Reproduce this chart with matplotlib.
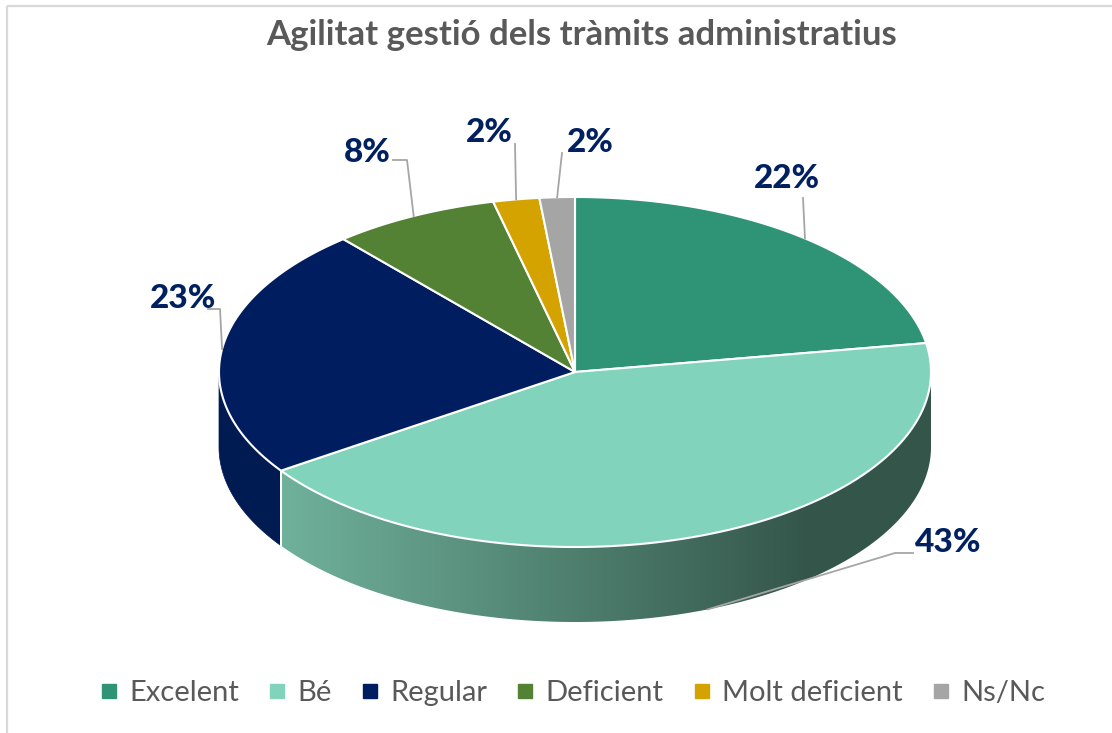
import numpy as np
import matplotlib
matplotlib.use("Agg")
import matplotlib.pyplot as plt
from matplotlib.patches import Polygon, Rectangle
from matplotlib.lines import Line2D

# data
categories = ["Excelent", "Bé", "Regular", "Deficient", "Molt deficient", "Ns/Nc"]
values = [22.4, 43.2, 23.3, 7.6, 2.1, 1.6]
colors = ["#2E9475", "#82D3BC", "#001E5F", "#548235", "#D4A300", "#A5A5A5"]
title = "Agilitat gestió dels tràmits administratius"

# layout (pixel space)
W, H = 1112, 733
cx, cy, a, b, depth = 575, 372, 356, 175, 75
# label centre positions and leader elbows
label_pos = [(787, 178), (948, 543), (183, 298), (367, 152), (489, 133), (590, 143)]
elbows = [[(803, 198)], [(913, 553), (895, 553)], [(208, 309), (220, 309)],
          [(393, 160), (407, 160)], [(515, 144)], [(562, 153)]]

plt.rcParams["font.family"] = ["Lato", "DejaVu Sans"]
fig = plt.figure(figsize=(W / 100, H / 100), dpi=100)
ax = fig.add_axes([0, 0, 1, 1])
ax.set_xlim(0, W)
ax.set_ylim(H, 0)
ax.axis("off")

ax.add_patch(Rectangle((7, 6), W + 20, H + 20, fill=False, edgecolor="#D9D9D9", lw=1.6))


def rim(theta_deg, dy=0):
    t = np.radians(theta_deg)
    return cx + a * np.cos(t), cy - b * np.sin(t) + dy


total = float(sum(values))
fracs = np.array(values) / total
cum = np.concatenate([[0], np.cumsum(fracs)])
# clockwise from 12 o'clock
start_th = 90 - 360 * cum[:-1]
end_th = 90 - 360 * cum[1:]

# gradient for the big front wall
grad_c0 = np.array([112, 178, 156]) / 255
grad_c1 = np.array([52, 86, 74]) / 255
wall_dark = {2: "#001A52"}

# side walls (front half only)
for i in range(len(values)):
    t0, t1 = end_th[i], start_th[i]
    lo, hi = max(t0, -180), min(t1, 0)
    if hi <= lo:
        lo, hi = max(t0 + 360, 180), min(t1 + 360, 360)
        if hi <= lo:
            continue
    ts = np.linspace(lo, hi, 300)
    top = [rim(t) for t in ts]
    bot = [rim(t, depth) for t in ts[::-1]]
    wall = Polygon(top + bot, closed=True, facecolor="none", edgecolor="none")
    ax.add_patch(wall)
    if i == 1:
        xs = np.linspace(0, W, 600)
        f = np.clip((xs - 278) / (810 - 278), 0, 1)
        img = grad_c0[None, :] + (grad_c1 - grad_c0)[None, :] * f[:, None]
        im = ax.imshow(img[None, :, :], extent=(0, W, H, 0), aspect="auto",
                       interpolation="bilinear", zorder=1)
        im.set_clip_path(wall)
    else:
        c = wall_dark.get(i, tuple(np.array(matplotlib.colors.to_rgb(colors[i])) * 0.65))
        wall.set_facecolor(c)
        wall.set_edgecolor(c)
        wall.set_linewidth(0.5)
    for t in (lo, hi):
        if -179.5 < t < -0.5 or 180.5 < t < 359.5:
            x, y = rim(t)
            ax.plot([x, x], [y, y + depth], color="white", lw=1.3, zorder=2)

# top faces
for i in range(len(values)):
    ts = np.linspace(start_th[i], end_th[i], 200)
    pts = [(cx, cy)] + [rim(t) for t in ts]
    ax.add_patch(Polygon(pts, closed=True, facecolor=colors[i], edgecolor="white",
                         lw=1.5, zorder=3))

# labels with leader lines
for i in range(len(values)):
    mid = (start_th[i] + end_th[i]) / 2
    ax_, ay_ = rim(mid, depth if i == 1 else 0)
    path = [(ax_, ay_)] + elbows[i][::-1]
    xs, ys = zip(*path)
    ax.plot(xs, ys, color="#A6A6A6", lw=1.3, zorder=4)
    ax.text(label_pos[i][0], label_pos[i][1], "{:.0f}%".format(values[i]),
            ha="center", va="center", fontsize=24, fontweight="black", color="#002060")

ax.text(582, 35, title, ha="center", va="center", fontsize=25, fontweight="bold", color="#595959")

handles = [Line2D([], [], marker="s", linestyle="none", markersize=9.5,
                  markerfacecolor=c, markeredgecolor=c) for c in colors]
fig.legend(handles, categories, loc="center", bbox_to_anchor=(572 / W, 1 - 693 / H),
           ncol=6, frameon=False, fontsize=21, labelcolor="#595959",
           handletextpad=0.35, columnspacing=0.95, handlelength=0.7)

fig.savefig("out.png", dpi=100)
